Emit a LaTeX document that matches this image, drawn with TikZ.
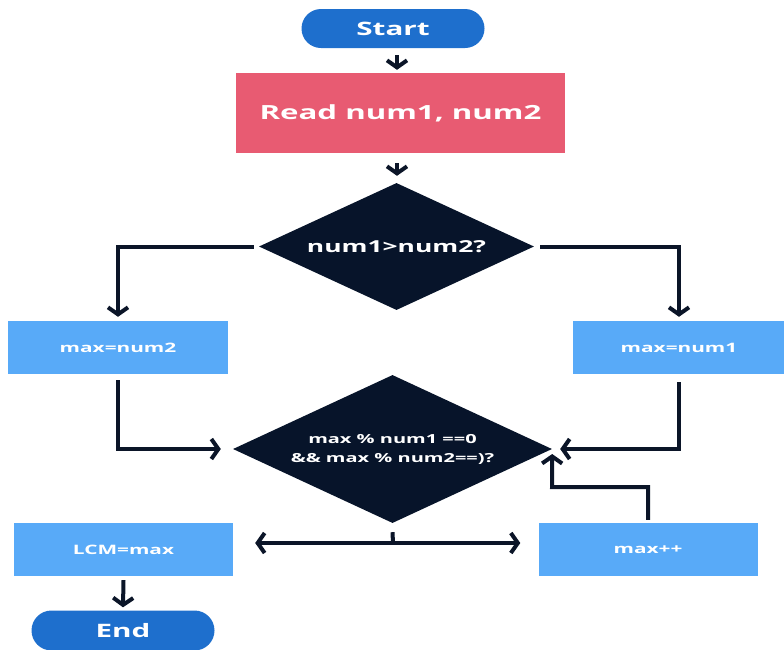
\documentclass[tikz,border=0pt]{standalone}
\usepackage{fontspec}
\setmainfont{Open Sans}[FakeStretch=1.6]
\usetikzlibrary{arrows.meta,shapes.geometric,shapes.misc}
\definecolor{termblue}{HTML}{1E6FCD}
\definecolor{readred}{HTML}{E85B72}
\definecolor{lightblue}{HTML}{58AAF8}
\definecolor{darknavy}{HTML}{07142A}
\definecolor{linecol}{HTML}{0B1528}
\begin{document}
\begin{tikzpicture}[x=1pt,y=-1pt,
  txt/.style={text=white,font=\bfseries\fontsize{#1}{#1}\selectfont},
  term/.style={rounded rectangle,fill=termblue,inner sep=0pt},
  procbox/.style={rectangle,fill=lightblue,inner sep=0pt,minimum height=53pt,txt=13},
  decide/.style={diamond,fill=darknavy,inner sep=0pt,aspect=2.15,align=center},
  line/.style={draw=linecol,line width=4pt},
  arr/.style={line,-{Straight Barb[length=7pt,width=20pt]}}]
\useasboundingbox (0,0) rectangle (784,649);

\node[term,minimum width=183pt,minimum height=39pt,txt=18.5] (start) at (393,28.5) {Start};
\node[rectangle,fill=readred,minimum width=329pt,minimum height=80pt,inner sep=0pt,txt=19.5] (read) at (400.5,113) {Read num1, num2};
\node[decide,minimum width=275pt,minimum height=127pt,txt=16.5] (d1) at (396.5,246.5) {num1>num2?};
\node[procbox,minimum width=220pt] (mx2) at (118,347.5) {max=num2};
\node[procbox,minimum width=212pt] (mx1) at (679,347.5) {max=num1};
\node[decide,minimum width=319pt,minimum height=148pt,font=\bfseries\fontsize{12.5}{19}\selectfont,text=white] (d2) at (392.5,449) {max \% num1 ==0\\\&\& max \% num2==)?};
\node[procbox,minimum width=219pt] (lcm) at (123.5,549.5) {LCM=max};
\node[procbox,minimum width=219pt] (inc) at (648,549.5) {max++};
\node[term,minimum width=183pt,minimum height=40pt,txt=18.5] (end) at (123,630.5) {End};

\coordinate (bend) at (552,487);
\coordinate (jn) at (393,543);

\draw[arr] ([xshift=4pt,yshift=-7pt]start.south) -- ([xshift=-3.5pt,yshift=3pt]read.north);
\draw[arr] ([xshift=-3.5pt,yshift=-10pt]read.south) -- ([xshift=0.5pt,yshift=7pt]d1.north);
\draw[arr] ([xshift=-5pt]d1.west) -| ([yshift=4pt]mx2.north);
\draw[arr] ([xshift=6pt]d1.east) -| ([yshift=4pt]mx1.north);
\draw[arr] ([yshift=-6pt]mx2.south) |- ([xshift=-12pt]d2.west);
\draw[arr] ([yshift=-8pt]mx1.south) |- ([xshift=8pt]d2.east);
\draw[arr] ([yshift=3pt]inc.north) |- (bend) -- ([yshift=-5pt]d2.east);
\draw[line] ([yshift=-9pt]d2.south) -- (jn);
\draw[arr,shorten >=22pt] (jn) -- (jn -| lcm.east);
\draw[arr,shorten >=18pt] (jn) -- (jn -| inc.west);
\draw[arr] ([yshift=-4pt]lcm.south) -- ([yshift=3pt]end.north);
\end{tikzpicture}
\end{document}
